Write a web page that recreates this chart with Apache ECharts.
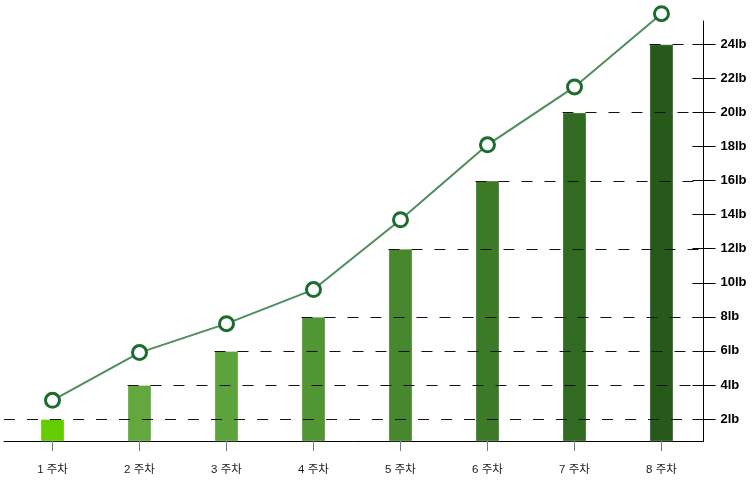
<!DOCTYPE html>
<html>
<head>
<meta charset="utf-8">
<script src="https://cdn.jsdelivr.net/npm/echarts@6/dist/echarts.min.js"></script>
<style>html,body{margin:0;padding:0;background:#fff}#c{width:756px;height:484px}</style>
</head>
<body>
<div id="c"></div>
<script>
const categories = ['1 주차', '2 주차', '3 주차', '4 주차', '5 주차', '6 주차', '7 주차', '8 주차'];
const barValues = [2, 4, 6, 8, 12, 16, 20, 24];
const lineValues = [3.1, 5.9, 7.6, 9.6, 13.7, 18.1, 21.5, 25.8];
const yTickValues = [2, 4, 6, 8, 10, 12, 14, 16, 18, 20, 22, 24];
const barColors = ['#64cc00', '#62a83e', '#5ba33a', '#519634', '#47882e', '#3c7a28', '#316b22', '#26591a'];

const BAR_W = 24;
const Y_MIN = 0.71, Y_MAX = 25.37;
const X_MIN = -0.5575, X_MAX = 7.483;

const chart = echarts.init(document.getElementById('c'), null, {renderer: 'canvas'});
const idx = categories.map((_, i) => i);

chart.setOption({
  animation: false,
  backgroundColor: '#ffffff',
  grid: {left: 4, right: 52.5, top: 21, bottom: 43, containLabel: false},
  xAxis: {
    type: 'value', min: X_MIN, max: X_MAX,
    splitLine: {show: false},
    axisLine: {show: true, onZero: false, lineStyle: {color: '#000', width: 1}},
    axisTick: {show: true, length: 10, customValues: idx, lineStyle: {color: '#777'}},
    axisLabel: {
      customValues: idx, margin: 23,
      formatter: v => categories[Math.round(v)],
      fontSize: 11.5, color: '#222', fontFamily: 'Liberation Sans, "Noto Sans CJK KR", sans-serif'
    }
  },
  yAxis: [{
    type: 'value', position: 'right', min: Y_MIN, max: Y_MAX,
    splitLine: {show: false},
    axisLine: {show: true, onZero: false, lineStyle: {color: '#000', width: 1}},
    axisTick: {show: true, length: 12, customValues: yTickValues, lineStyle: {color: '#000'}},
    axisLabel: {
      customValues: yTickValues, margin: 17,
      formatter: v => v + 'lb',
      fontSize: 13, fontWeight: 'bold', color: '#000', fontFamily: 'Liberation Sans, Arial, sans-serif'
    }
  }, {
    type: 'value', position: 'right', offset: 0, min: Y_MIN, max: Y_MAX,
    splitLine: {show: false},
    axisLine: {show: false, onZero: false},
    axisTick: {show: true, inside: true, length: 11, customValues: yTickValues, lineStyle: {color: '#000'}},
    axisLabel: {show: false}
  }],
  series: [{
    type: 'bar',
    barWidth: BAR_W,
    z: 2,
    data: barValues.map((v, i) => ({
      value: [i, v],
      itemStyle: {color: barColors[i], borderColor: 'rgba(255,255,255,0.28)', borderWidth: 1}
    }))
  }, {
    type: 'custom',
    z: 3,
    clip: false,
    data: barValues.map((v, i) => [i, v]),
    renderItem: (params, api) => {
      const i = api.value(0);
      const p = api.coord([i, api.value(1)]);
      const cs = params.coordSys;
      const x1 = i === 0 ? cs.x : p[0] - BAR_W / 2;
      const y = Math.round(p[1]) + 0.5;
      return {
        type: 'line',
        shape: {x1: x1, y1: y, x2: cs.x + cs.width, y2: y},
        style: {stroke: '#111', lineWidth: 1.1, lineDash: [11, 12]}
      };
    }
  }, {
    type: 'line',
    z: 5,
    clip: false,
    data: lineValues.map((v, i) => [i, v]),
    symbol: 'circle',
    symbolSize: 14,
    lineStyle: {color: '#4e8e5e', width: 2},
    itemStyle: {color: '#ffffff', borderColor: '#1d6b2f', borderWidth: 3}
  }]
});
</script>
</body>
</html>
